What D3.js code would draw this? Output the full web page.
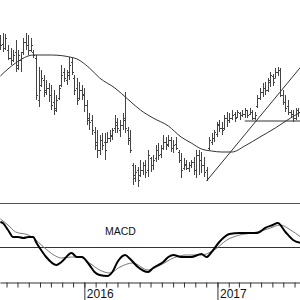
<!DOCTYPE html>
<html>
<head>
<meta charset="utf-8">
<script src="https://cdn.jsdelivr.net/npm/d3@7"></script>
<style>
  html, body { margin: 0; padding: 0; background: #fff; }
  svg { display: block; }
</style>
</head>
<body>
<div id="chart"></div>
<script>
const width = 300;
const height = 300;

// weekly bars, first one on Fri 15 May 2015
const firstBar = new Date(2015, 4, 15);

// price bars (open / high / low / close)
const high = [265,267,266,255,252,250,260,250,248,262,267,265,262,250,245,233,230,225,220,217,
  215,210,205,215,235,232,230,243,242,225,222,218,215,212,200,187,185,173,170,165,
  167,167,168,170,172,185,182,180,187,208,173,170,137,135,133,140,138,140,150,143,
  145,155,157,155,165,163,165,163,160,163,150,147,142,140,138,140,143,150,150,148,
  143,133,163,167,170,178,180,178,185,188,187,190,188,190,188,190,192,190,192,190,
  188,205,212,217,218,222,228,226,232,233,232,210,205,200,190,190,192,192];
const low = [250,248,250,240,235,238,228,230,228,245,250,245,248,242,200,193,213,203,205,198,
  190,185,188,200,213,218,215,220,225,205,195,200,200,188,175,170,165,150,142,145,
  150,140,157,158,160,167,167,163,170,167,155,147,115,118,113,123,125,122,123,128,
  130,138,140,142,150,150,153,148,147,150,137,122,130,130,128,132,125,122,125,127,
  123,119,150,155,158,163,168,165,170,173,177,180,178,182,180,183,182,182,185,180,
  180,192,200,203,205,208,213,214,222,224,203,195,188,185,182,178,180,183];
const open = [260,256,252,250,242,240,248,235,240,248,258,255,250,248,242,200,215,220,208,212,
  205,198,192,202,215,228,220,225,238,222,212,202,210,206,195,182,180,168,158,150,
  160,158,158,162,164,172,178,170,175,180,170,162,135,122,130,125,130,135,130,142,
  135,142,150,146,152,158,156,160,152,156,148,140,132,136,132,135,138,130,145,140,
  135,130,152,158,162,166,176,172,172,182,180,182,186,183,187,185,186,190,186,188,
  182,194,202,208,212,210,218,224,222,228,230,205,198,194,188,186,182,190];
const close = [255,252,262,242,240,245,232,245,242,258,255,250,255,245,205,210,222,210,212,205,
  195,190,200,212,225,222,228,235,228,210,200,210,205,195,180,178,170,155,150,160,
  155,150,162,165,170,175,172,175,182,172,160,150,125,128,120,130,135,128,145,135,
  140,150,145,152,158,155,160,152,155,152,140,130,135,132,135,138,130,145,140,135,
  128,122,160,162,168,175,172,170,182,180,182,185,182,188,185,186,190,185,188,182,
  185,202,208,212,210,220,225,218,228,230,205,198,192,188,186,182,190,188];

// moving average: [bar index, value]
const movingAvg = [[0,224],[6,237],[13,245],[20,245],[29,242],[35,232],[39,222],[45,212],
  [50,201],[55,190],[60,182],[66,174],[71,163],[75,157],[79,151],[83,149],[87,148],
  [91,148],[96,154],[102,163],[108,172],[114,182],[118,188]];

// hand drawn lines: rising trend line and horizontal support
const trendLine = [[81,119],[118.3,233]];
const supportLine = [[96,179],[118.3,179]];

// MACD panel: [bar index, value]
const macdLine = [[0,2.5],[1,2.4],[3,1.7],[5,1.0],[7,1.0],[9,0.9],[11,1.0],[13,1.0],[14,0.5],
  [16,-0.3],[18,-1.0],[22,-1.8],[24,-1.5],[28,-0.6],[30,-1.0],[32,-1.0],[35,-1.8],[37,-2.5],
  [39,-2.8],[42,-2.9],[44,-2.5],[46,-1.5],[49,-0.8],[51,-1.2],[54,-2.0],[58,-2.5],[60,-2.1],
  [64,-1.5],[66,-1.0],[68,-0.8],[71,-1.0],[75,-1.0],[79,-0.7],[81,-1.0],[83,-0.5],[86,0.5],
  [90,1.3],[94,1.4],[98,1.4],[101,1.4],[104,1.9],[107,2.2],[109,2.4],[112,1.5],[115,0.7],[118,0.4]];
const signalLine = [[0,2.8],[3,2.2],[6,1.5],[11,1.2],[13,0.9],[17,0.0],[21,-0.8],[24,-1.1],
  [28,-1.0],[31,-1.0],[35,-1.6],[39,-2.3],[43,-2.6],[47,-2.0],[52,-1.6],[58,-2.3],[63,-1.8],
  [68,-1.1],[73,-0.8],[79,-0.8],[84,-0.3],[89,0.7],[94,1.2],[99,1.4],[105,1.8],[110,2.2],
  [114,1.7],[118,1.0]];

const yearTicks = [new Date(2016, 0, 1), new Date(2017, 0, 1)];

const dateOf = i => d3.timeWeek.offset(firstBar, i);

// scales
const x = d3.scaleTime()
    .domain([new Date(2015, 4, 14), new Date(2017, 7, 16)])
    .range([0, width]);

const yPrice = d3.scaleLinear()
    .domain([100, 300])
    .range([200, 0]);

const yMacd = d3.scaleLinear()
    .domain([-3.5, 4.4])
    .range([282, 203]);

const svg = d3.select("#chart")
    .append("svg")
    .attr("width", width)
    .attr("height", height)
    .style("font-family", "'Liberation Sans', Arial, sans-serif");

const px = v => Math.round(v) + 0.5;

// price bars
const bars = svg.append("g")
    .attr("stroke", "#444")
    .attr("stroke-width", 1);

high.forEach((h, i) => {
    const cx = px(x(dateOf(i)));
    bars.append("line")
        .attr("x1", cx).attr("x2", cx)
        .attr("y1", yPrice(h)).attr("y2", yPrice(low[i]));
    bars.append("line")
        .attr("x1", cx - 1.5).attr("x2", cx)
        .attr("y1", px(yPrice(open[i]))).attr("y2", px(yPrice(open[i])));
    bars.append("line")
        .attr("x1", cx).attr("x2", cx + 1.5)
        .attr("y1", px(yPrice(close[i]))).attr("y2", px(yPrice(close[i])));
});

// moving average
const priceLine = d3.line()
    .x(d => x(dateOf(d[0])))
    .y(d => yPrice(d[1]));

svg.append("path")
    .datum(movingAvg)
    .attr("fill", "none")
    .attr("stroke", "#333")
    .attr("stroke-width", 1)
    .attr("d", priceLine.curve(d3.curveMonotoneX));

// trend + support lines
[trendLine, supportLine].forEach(seg => {
    svg.append("path")
        .datum(seg)
        .attr("fill", "none")
        .attr("stroke", "#333")
        .attr("stroke-width", 1)
        .attr("d", d3.line().x(d => x(dateOf(d[0]))).y(d => yPrice(d[1])));
});

// MACD panel frame
svg.append("line")
    .attr("x1", 0).attr("x2", width)
    .attr("y1", px(yMacd(4.4))).attr("y2", px(yMacd(4.4)))
    .attr("stroke", "#555");

svg.append("line")
    .attr("x1", 0).attr("x2", width)
    .attr("y1", px(yMacd(0))).attr("y2", px(yMacd(0)))
    .attr("stroke", "#333");

svg.append("text")
    .attr("x", 105)
    .attr("y", 235)
    .attr("font-size", 10.5)
    .attr("fill", "#111")
    .text("MACD");

const macdPath = d3.line()
    .x(d => x(dateOf(d[0])))
    .y(d => yMacd(d[1]))
    .curve(d3.curveMonotoneX);

svg.append("path")
    .datum(signalLine)
    .attr("fill", "none")
    .attr("stroke", "#777")
    .attr("stroke-width", 1)
    .attr("d", macdPath);

svg.append("path")
    .datum(macdLine)
    .attr("fill", "none")
    .attr("stroke", "#000")
    .attr("stroke-width", 2)
    .attr("d", macdPath);

// time axis: monthly ticks plus longer year ticks with labels
svg.append("g")
    .attr("transform", `translate(0,${px(yMacd(-3.5))})`)
    .call(d3.axisBottom(x)
        .ticks(d3.timeMonth.every(1))
        .tickSize(5)
        .tickSizeOuter(0)
        .tickFormat(""))
    .call(g => g.selectAll("path, line").attr("stroke", "#333"));

const yearAxis = svg.append("g")
    .attr("transform", `translate(0,${px(yMacd(-3.5))})`)
    .call(d3.axisBottom(x)
        .tickValues(yearTicks)
        .tickSize(18)
        .tickFormat(d3.timeFormat("%Y")));

yearAxis.select(".domain").remove();
yearAxis.selectAll("line").attr("stroke", "#333");
yearAxis.selectAll("text")
    .attr("text-anchor", "start")
    .attr("x", 2)
    .attr("y", 15.5)
    .attr("dy", 0)
    .attr("font-size", 12)
    .attr("font-family", "'Liberation Sans', Arial, sans-serif")
    .attr("fill", "#111");
</script>
</body>
</html>
